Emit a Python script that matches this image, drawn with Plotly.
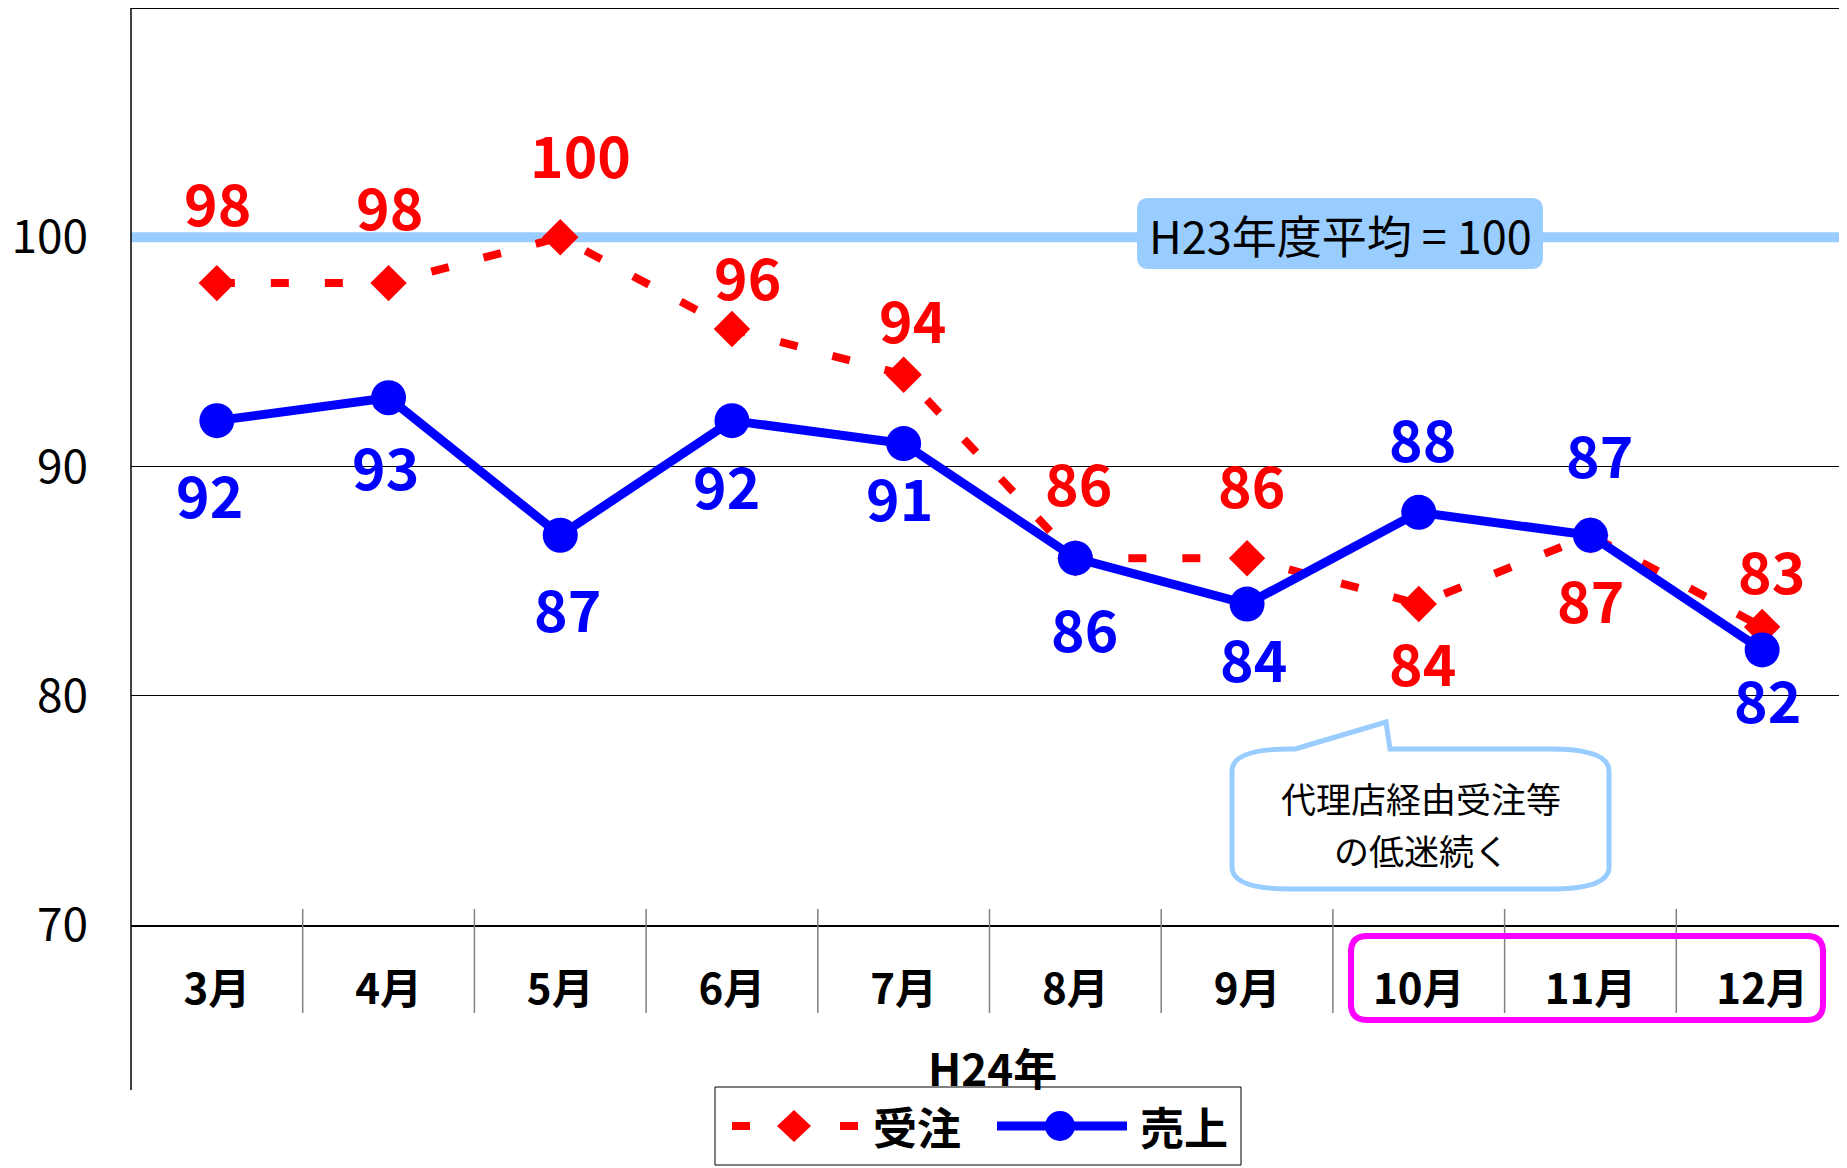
import plotly.graph_objects as go

# ---------------- data ----------------
months = ["3月", "4月", "5月", "6月", "7月", "8月", "9月", "10月", "11月", "12月"]
juchu = [98, 98, 100, 96, 94, 86, 86, 84, 87, 83]      # 受注
uriage = [92, 93, 87, 92, 91, 86, 84, 88, 87, 82]      # 売上
y_ticks = [70, 80, 90, 100]
baseline_value = 100
baseline_text = "H23年度平均 = 100"
callout_lines = ["代理店経由受注等", "の低迷続く"]
group_label = "H24年"

# label offsets (px, screen: +dy = down)
juchu_dx = [1, 1, 20, 16, 9, 3, 4, 4, 0, 9]
juchu_dy = [-75, -71, -77, -47, -50, -70, -68, 64, 70, -51]
uriage_dx = [-7, -3, 7, -5, -4, 9, 6, 4, 9, 5]
uriage_dy = [79, 74, 79, 70, 59, 76, 60, -68, -75, 55]
GLYPH_LIFT = 7   # compensate CJK font box vs digit glyph centre

FONT = "Noto Sans CJK JP"
RED = "#FF0000"
BLUE = "#0000FF"
LBLUE = "#99CCFF"
MAG = "#FF00FF"

W, H = 1847, 1168
OFF = 8                      # page body margin
L, T, PW, PH = 123, 0, 1717, 917
R = W - L - PW
B = H - T - PH


def X(px):  # page px -> paper x
    return (px - OFF - L) / PW


def Y(py):  # page px -> paper y
    return (T + PH - (py - OFF)) / PH


def rrect(x0, y0, x1, y1, rx, ry=None):
    if ry is None:
        ry = rx
    return (f"M {X(x0+rx)},{Y(y0)} L {X(x1-rx)},{Y(y0)} Q {X(x1)},{Y(y0)} {X(x1)},{Y(y0+ry)} "
            f"L {X(x1)},{Y(y1-ry)} Q {X(x1)},{Y(y1)} {X(x1-rx)},{Y(y1)} "
            f"L {X(x0+rx)},{Y(y1)} Q {X(x0)},{Y(y1)} {X(x0)},{Y(y1-ry)} "
            f"L {X(x0)},{Y(y0+ry)} Q {X(x0)},{Y(y0)} {X(x0+rx)},{Y(y0)} Z")


def paper_text(px, py, text, size, weight="normal", color="black"):
    return dict(xref="paper", yref="paper", x=X(px), y=Y(py), text=text, showarrow=False,
                xanchor="center", yanchor="middle", align="center",
                font=dict(family=FONT, size=size, color=color, weight=weight))


fig = go.Figure()
fig.add_trace(go.Scatter(
    x=months, y=juchu, mode="lines+markers", name="受注",
    line=dict(color=RED, width=8, dash="18px,36px"),
    marker=dict(symbol="diamond", size=28, color=RED, line=dict(width=0)),
    cliponaxis=False,
))
fig.add_trace(go.Scatter(
    x=months, y=uriage, mode="lines+markers", name="売上",
    line=dict(color=BLUE, width=9),
    marker=dict(symbol="circle", size=35, color=BLUE, line=dict(width=0)),
    cliponaxis=False,
))

annotations = []
for m, v, dx, dy in zip(months, juchu, juchu_dx, juchu_dy):
    annotations.append(dict(x=m, y=v, text=str(v), showarrow=False, xshift=dx, yshift=-dy + GLYPH_LIFT,
                            xanchor="center", yanchor="middle",
                            font=dict(family=FONT, size=57, color=RED, weight="bold")))
for m, v, dx, dy in zip(months, uriage, uriage_dx, uriage_dy):
    annotations.append(dict(x=m, y=v, text=str(v), showarrow=False, xshift=dx, yshift=-dy + GLYPH_LIFT,
                            xanchor="center", yanchor="middle",
                            font=dict(family=FONT, size=57, color=BLUE, weight="bold")))

annotations.append(paper_text(1340, 234, baseline_text, 45))
annotations.append(paper_text(1421, 797, callout_lines[0], 35))
annotations.append(paper_text(1421, 849, callout_lines[1], 35))
annotations.append(paper_text(992, 1067, group_label, 44, "bold"))
annotations.append(paper_text(917, 1126, "受注", 44, "bold"))
annotations.append(paper_text(1184, 1126, "売上", 44, "bold"))

shapes = []
# baseline at 100
shapes.append(dict(type="line", xref="x", yref="y", x0=-0.5, x1=9.5, y0=baseline_value, y1=baseline_value,
                   line=dict(color=LBLUE, width=10), layer="between"))
# top border (110 grid)
shapes.append(dict(type="line", xref="paper", yref="paper", x0=0, x1=1, y0=1, y1=1,
                   line=dict(color="black", width=2)))
# left axis line extended below
shapes.append(dict(type="line", xref="paper", yref="paper", x0=0, x1=0, y0=Y(1090), y1=1,
                   line=dict(color="black", width=1.5)))
# category dividers
for i in range(len(months) - 1):
    shapes.append(dict(type="line", xref="x", yref="paper", x0=i + 0.5, x1=i + 0.5,
                       y0=Y(1013), y1=Y(909), line=dict(color="#808080", width=1.5)))
# baseline label box
shapes.append(dict(type="path", xref="paper", yref="paper", path=rrect(1137, 198, 1543, 269, 12),
                   fillcolor=LBLUE, line=dict(width=0), layer="above"))
# callout bubble
cl, cr, ct, cb = 1232, 1609, 749, 889
rx, ry = 58, 22
bubble = (f"M {X(1295)},{Y(ct)} L {X(1386)},{Y(722)} L {X(1390)},{Y(ct)} L {X(cr-rx)},{Y(ct)} "
          f"Q {X(cr)},{Y(ct)} {X(cr)},{Y(ct+ry)} L {X(cr)},{Y(cb-ry)} Q {X(cr)},{Y(cb)} {X(cr-rx)},{Y(cb)} "
          f"L {X(cl+rx)},{Y(cb)} Q {X(cl)},{Y(cb)} {X(cl)},{Y(cb-ry)} L {X(cl)},{Y(ct+ry)} "
          f"Q {X(cl)},{Y(ct)} {X(cl+rx)},{Y(ct)} Z")
shapes.append(dict(type="path", xref="paper", yref="paper", path=bubble,
                   fillcolor="white", line=dict(color=LBLUE, width=5), layer="above"))
# magenta highlight box
shapes.append(dict(type="path", xref="paper", yref="paper", path=rrect(1351, 936, 1823, 1020, 16),
                   fillcolor="rgba(0,0,0,0)", line=dict(color=MAG, width=6), layer="above"))
# legend box
shapes.append(dict(type="rect", xref="paper", yref="paper", x0=X(715), x1=X(1241), y0=Y(1087), y1=Y(1165),
                   line=dict(color="black", width=1), fillcolor="white"))
# legend symbols - 受注
for a, b in [(732, 750), (840, 858)]:
    shapes.append(dict(type="line", xref="paper", yref="paper", x0=X(a), x1=X(b), y0=Y(1126), y1=Y(1126),
                       line=dict(color=RED, width=8)))
shapes.append(dict(type="path", xref="paper", yref="paper",
                   path=f"M {X(794)},{Y(1110)} L {X(811)},{Y(1126)} L {X(794)},{Y(1142)} L {X(777)},{Y(1126)} Z",
                   fillcolor=RED, line=dict(width=0)))
# legend symbols - 売上
shapes.append(dict(type="line", xref="paper", yref="paper", x0=X(997), x1=X(1127), y0=Y(1126), y1=Y(1126),
                   line=dict(color=BLUE, width=9)))
shapes.append(dict(type="circle", xref="paper", yref="paper", x0=X(1045), x1=X(1075), y0=Y(1141), y1=Y(1111),
                   fillcolor=BLUE, line=dict(width=0)))

fig.update_layout(
    width=W, height=H,
    margin=dict(l=L, r=R, t=T, b=B, pad=0, autoexpand=False),
    paper_bgcolor="white", plot_bgcolor="white",
    showlegend=False,
    font=dict(family=FONT, color="black"),
    xaxis=dict(type="category", range=[-0.5, 9.5], showgrid=False, zeroline=False, automargin=False,
               showline=True, linecolor="black", linewidth=2, ticks="",
               tickfont=dict(family=FONT, size=42, color="black", weight="bold"),
               ticklabelstandoff=27),
    yaxis=dict(range=[70, 110], tickvals=y_ticks, showgrid=True, gridcolor="black", gridwidth=1,
               zeroline=False, showline=False, ticks="", automargin=False,
               tickfont=dict(family=FONT, size=46, color="black"),
               ticklabelstandoff=42),
    annotations=annotations,
    shapes=shapes,
)

fig.write_html("out.html")
